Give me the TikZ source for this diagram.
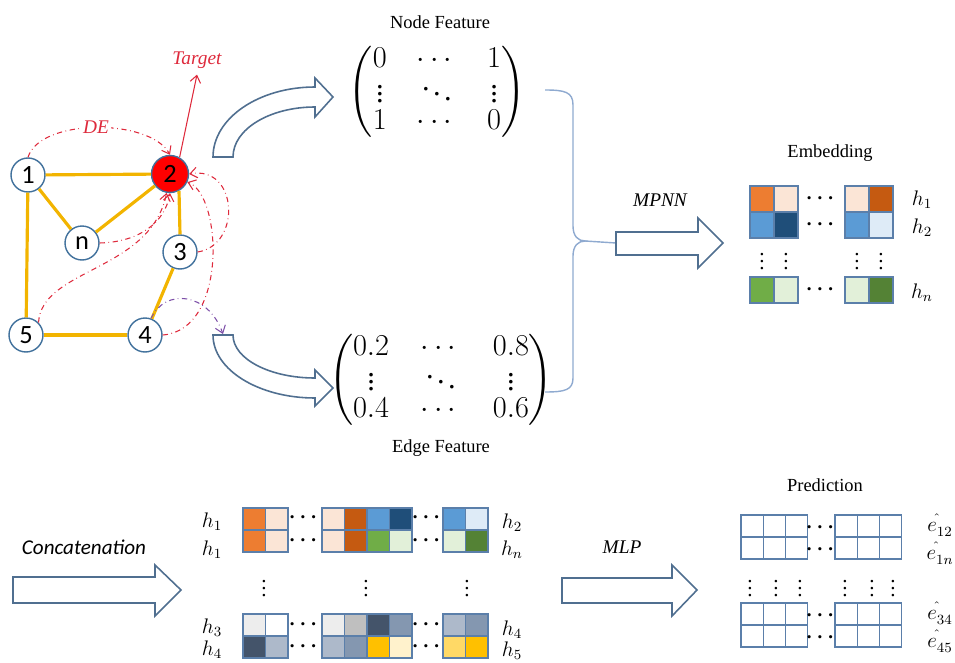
\documentclass[tikz,border=0pt]{standalone}
\usepackage{amsmath}
\usepackage{fontspec}
\setmainfont{Liberation Serif}
\newfontfamily\carlito{Carlito}
\usetikzlibrary{arrows.meta}

\definecolor{corange}{HTML}{ED7D31}
\definecolor{cpeach}{HTML}{FBE5D6}
\definecolor{cdorange}{HTML}{C55A11}
\definecolor{cblue}{HTML}{5B9BD5}
\definecolor{cdblue}{HTML}{1F4E79}
\definecolor{clblue}{HTML}{DEEBF7}
\definecolor{cgreen}{HTML}{70AD47}
\definecolor{clgreen}{HTML}{E2F0D9}
\definecolor{cdgreen}{HTML}{548235}
\definecolor{clgray}{HTML}{EDEDED}
\definecolor{cgray}{HTML}{BFBFBF}
\definecolor{cslate}{HTML}{44546A}
\definecolor{cgblue}{HTML}{8497B0}
\definecolor{clgblue}{HTML}{ADB9CA}
\definecolor{cgold}{HTML}{FFC000}
\definecolor{clgold}{HTML}{FFF2CC}
\definecolor{cyellow}{HTML}{FFD966}
\definecolor{gridc}{HTML}{5B7FAA}
\definecolor{arrowc}{HTML}{506F90}
\definecolor{bracec}{HTML}{8FAAD0}
\definecolor{redc}{HTML}{DE2A3C}
\definecolor{purplec}{HTML}{7D4FA8}
\definecolor{edgec}{HTML}{F2B400}
\definecolor{nodeb}{HTML}{41719C}

\tikzset{
  gnode/.style={circle, draw=nodeb, line width=0.8pt, fill=white, minimum size=0.68cm,
    inner sep=0pt, font=\fontsize{15}{17}\selectfont\carlito},
  gedge/.style={edgec, line width=1.8pt},
  decurve/.style={redc, dash dot, line width=0.6pt, -{Straight Barb[length=4pt,width=6pt]}},
  pcurve/.style={purplec, dash dot, line width=0.6pt, -{Straight Barb[length=4pt,width=6pt]}},
  blockarr/.style={draw=arrowc, line width=0.9pt, fill=white, line join=miter},
  brace/.style={bracec, line width=0.8pt},
  cell/.style={draw=gridc, line width=0.6pt},
  title/.style={font=\fontsize{10.5}{12}\selectfont},
  lbl/.style={font=\large},
  dots/.style={font=\large}
}

% one row of coloured cells: x, y, width, height, colours
\newcommand{\cellrow}[5]{%
  \foreach \cc [count=\ii from 0] in {#5}
    \draw[cell, fill=\cc] ({#1+#3*\ii},#2) rectangle +(#3,#4);}
% lowered vertical and diagonal dots for the matrices
\newcommand{\mvd}{\smash{\lower2.5pt\hbox{$\vdots$}}}
\newcommand{\mdd}{\smash{\lower2.5pt\hbox{$\ddots$}}}

\begin{document}
\begin{tikzpicture}[x=0.02cm, y=-0.02cm]
\useasboundingbox (0,0) rectangle (955,662);

% graph
\node[gnode] (n1) at (28,175) {1};
\node[gnode, fill=red, minimum size=0.74cm] (n2) at (170,174) {2};
\node[gnode] (nn) at (82,243) {n};
\node[gnode] (n3) at (180,252) {3};
\node[gnode] (n5) at (26,335) {5};
\node[gnode] (n4) at (145,335) {4};

\draw[gedge] (n1) -- (n2);
\draw[gedge] (n1) -- (nn);
\draw[gedge] (nn) -- (n2);
\draw[gedge] (n1) -- (n5);
\draw[gedge] (n2.-62) -- (n3.north);
\draw[gedge] (n3) -- (n4);
\draw[gedge] (n5) -- (n4);

% target
\node[redc, font=\itshape\fontsize{11}{13}\selectfont] (target) at (197,60) {Target};
\draw[redc, line width=0.6pt, -{Straight Barb[length=4pt,width=6pt]}] (n2.60) -- (target.south);

% distance encoding curves
\draw[decurve] (n1.north) .. controls (40,118) and (150,118) .. (n2.north)
  node[pos=0.5, fill=white, inner sep=1pt, font=\itshape\fontsize{11}{13}\selectfont] (delbl) {DE};
\draw[decurve] (nn.east) .. controls (140,242) and (165,222) .. (n2.south);
\draw[decurve] (n5.north east) .. controls (42,268) and (150,272) .. (n2.-100);
\draw[decurve] (n3.east) .. controls (242,245) and (238,165) .. (n2.east);
\draw[decurve] (n4.east) .. controls (228,330) and (222,195) .. (n2.-25);

% curved block arrows
\draw[blockarr] (213,157) .. controls (213,118) and (259,87) .. (315,87) -- (315,78)
  -- (333,97) -- (315,117) -- (315,107) .. controls (270,107) and (233,129) .. (233,157) -- cycle;
\draw[blockarr] (213,335) -- (233,335) .. controls (233,359) and (270,378) .. (315,378)
  -- (315,370) -- (333,388) -- (315,406) -- (315,398) .. controls (259,398) and (213,370) .. (213,335) -- cycle;

\coordinate (edgein) at (223,334);
\draw[pcurve] (n4.70) .. controls (165,288) and (208,292) .. (edgein);

% feature matrices
\node[title] (nflabel) at (440,22) {Node Feature};
\node (nodefeat) at (437,92) {\LARGE\renewcommand{\arraystretch}{0.8}\setlength{\arraycolsep}{8.5pt}%
  $\begin{pmatrix}0&\cdots&1\\ \mvd&\mdd&\mvd\\ 1&\cdots&0\end{pmatrix}$};
\node (edgefeat) at (441,380) {\LARGE\renewcommand{\arraystretch}{0.8}\setlength{\arraycolsep}{9pt}%
  $\begin{pmatrix}0.2&\cdots&0.8\\ \mvd&\mdd&\mvd\\ 0.4&\cdots&0.6\end{pmatrix}$};
\node[title] (eflabel) at (441,448) {Edge Feature};

% brace
\coordinate (bracetip) at (585,241);
\coordinate (mpnnin) at (616,243);
\draw[brace] (545,90) .. controls (565,90) and (573,92) .. (573,105) -- (573,226)
  .. controls (573,236) and (578,241) .. (bracetip)
  .. controls (578,241) and (573,246) .. (573,256) -- (573,378)
  .. controls (573,390) and (565,392) .. (545,392);
\draw[brace] (bracetip) -- (mpnnin);

% MPNN
\node[font=\itshape\fontsize{11}{13}\selectfont] (mpnnlbl) at (660,200) {MPNN};
\draw[blockarr] (616,232) -- (698,232) -- (698,218) -- (723,243) -- (698,268) -- (698,255) -- (616,255) -- cycle;

% embedding
\node[title] (emblbl) at (830,153) {Embedding};
\cellrow{750}{186}{24}{26}{corange,cpeach}
\cellrow{845}{186}{24}{26}{cpeach,cdorange}
\cellrow{750}{212}{24}{26}{cblue,cdblue}
\cellrow{845}{212}{24}{26}{cblue,clblue}
\cellrow{750}{277}{24}{26}{cgreen,clgreen}
\cellrow{845}{277}{24}{26}{clgreen,cdgreen}
\foreach \y [count=\i] in {199,225,290}
  \node[dots] (edots\i) at (822,\y) {$\boldsymbol{\cdots}$};
\foreach \x [count=\i] in {762,786,857,881}
  \node[dots] (evdots\i) at (\x,256) {$\boldsymbol{\vdots}$};
\node[lbl] (eh1) at (922,200) {$h_1$};
\node[lbl] (eh2) at (922,228) {$h_2$};
\node[lbl] (ehn) at (922,293) {$h_n$};

% concatenation
\node[font=\itshape\fontsize{12}{14}\selectfont\carlito] (catlbl) at (84,547) {Concatenation};
\draw[blockarr] (13,577) -- (155,577) -- (155,565) -- (181,590) -- (155,616) -- (155,603) -- (13,603) -- cycle;

\cellrow{243}{508}{22.5}{22}{corange,cpeach}
\cellrow{322}{508}{22.5}{22}{cpeach,cdorange,cblue,cdblue}
\cellrow{443}{508}{22.5}{22}{cblue,clblue}
\cellrow{243}{530}{22.5}{22}{corange,cpeach}
\cellrow{322}{530}{22.5}{22}{cpeach,cdorange,cgreen,clgreen}
\cellrow{443}{530}{22.5}{22}{clgreen,cdgreen}
\cellrow{243}{614}{22.5}{22}{clgray,white}
\cellrow{322}{614}{22.5}{22}{clgray,cgray,cslate,cgblue}
\cellrow{443}{614}{22.5}{22}{clgblue,cgblue}
\cellrow{243}{636}{22.5}{22}{cslate,clgblue}
\cellrow{322}{636}{22.5}{22}{clgblue,cgblue,cgold,clgold}
\cellrow{443}{636}{22.5}{22}{cyellow,cgold}
\foreach \y [count=\i] in {518,540,624,646} {
  \node[dots] (cdotsa\i) at (305,\y) {$\boldsymbol{\cdots}$};
  \node[dots] (cdotsb\i) at (428,\y) {$\boldsymbol{\cdots}$};
}
\foreach \x [count=\i] in {264,366,467}
  \node[dots] (cvdots\i) at (\x,583) {$\boldsymbol{\vdots}$};
\node[lbl] (ch1) at (212,522) {$h_1$};
\node[lbl] (ch1b) at (212,550) {$h_1$};
\node[lbl] (ch3) at (212,628) {$h_3$};
\node[lbl] (ch4) at (212,650) {$h_4$};
\node[lbl] (ch2) at (512,523) {$h_2$};
\node[lbl] (chn) at (512,550) {$h_n$};
\node[lbl] (ch4b) at (512,630) {$h_4$};
\node[lbl] (ch5) at (512,651) {$h_5$};

% MLP
\node[font=\itshape\fontsize{11}{13}\selectfont] (mlplbl) at (622,547) {MLP};
\draw[blockarr] (562,578) -- (672,578) -- (672,565) -- (697,590) -- (672,616) -- (672,603) -- (562,603) -- cycle;

% prediction
\node[title] (predlbl) at (825,485) {Prediction};
\foreach \y in {515,537,603,625} {
  \cellrow{741}{\y}{22.3}{22}{white,white,white}
  \cellrow{835}{\y}{22.3}{22}{white,white,white}
}
\foreach \y [count=\i] in {527,549,615,637}
  \node[dots] (pdots\i) at (822,\y) {$\boldsymbol{\cdots}$};
\foreach \x [count=\i] in {750,776,800,845,872,893}
  \node[dots] (pvdots\i) at (\x,583) {$\boldsymbol{\vdots}$};
\node[lbl] (pe12) at (940,525) {$e^{\hat{}}_{12}$};
\node[lbl] (pe1n) at (940,553) {$e^{\hat{}}_{1n}$};
\node[lbl] (pe34) at (940,613) {$e^{\hat{}}_{34}$};
\node[lbl] (pe45) at (940,641) {$e^{\hat{}}_{45}$};
\end{tikzpicture}
\end{document}
